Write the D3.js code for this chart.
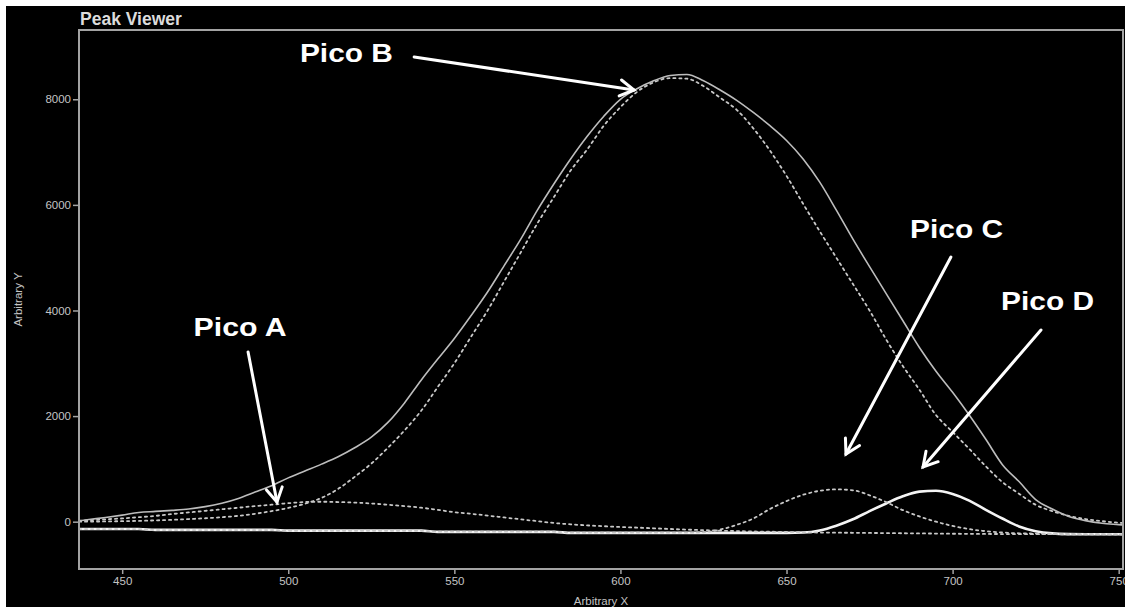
<!DOCTYPE html>
<html>
<head>
<meta charset="utf-8">
<script src="https://cdn.jsdelivr.net/npm/d3@7"></script>
<style>
  html, body { margin: 0; padding: 0; background: #ffffff; }
  svg { display: block; }
</style>
</head>
<body>
<svg id="chart" width="1125" height="607"></svg>
<script>
// Spectral axis (Arbitrary X)
const wavelength = [437, 440, 445, 450, 455, 460, 465, 470, 475, 480, 485, 490, 495, 500, 505, 510, 515, 520, 525, 530, 535, 540, 545, 550, 555, 560, 565, 570, 575, 580, 585, 590, 595, 600, 605, 610, 615, 620, 625, 630, 635, 640, 645, 650, 655, 660, 665, 670, 675, 680, 685, 690, 695, 700, 705, 710, 715, 720, 725, 730, 735, 740, 745, 750, 751];

// Measured envelope (solid grey)
const totalSignal = [15, 40, 80, 125, 175, 195, 215, 240, 285, 350, 440, 560, 680, 830, 960, 1090, 1230, 1400, 1600, 1880, 2250, 2680, 3080, 3470, 3900, 4350, 4850, 5350, 5900, 6400, 6870, 7300, 7680, 8000, 8200, 8350, 8450, 8470, 8350, 8176, 7980, 7750, 7500, 7220, 6870, 6430, 5900, 5350, 4830, 4320, 3810, 3300, 2850, 2450, 2020, 1560, 1080, 760, 420, 240, 100, 20, -30, -55, -60];

// Fitted components
const picoA = [20, 28, 45, 62, 85, 110, 145, 175, 205, 235, 265, 295, 322, 350, 372, 378, 372, 362, 345, 320, 295, 265, 225, 180, 150, 115, 80, 45, 10, -25, -50, -70, -85, -100, -112, -125, -138, -150, -160, -170, -178, -185, -190, -195, -200, -205, -208, -210, -213, -216, -219, -222, -225, -228, -230, -232, -234, -235, -236, -237, -238, -239, -240, -240, -240];
const picoB = [0, 2, 5, 10, 15, 25, 35, 50, 65, 85, 110, 150, 200, 260, 340, 450, 620, 850, 1100, 1400, 1730, 2100, 2550, 3000, 3500, 4000, 4550, 5100, 5650, 6150, 6650, 7050, 7500, 7850, 8140, 8320, 8400, 8390, 8250, 8030, 7800, 7450, 7030, 6550, 6020, 5500, 5000, 4500, 4000, 3450, 2950, 2500, 2020, 1700, 1380, 1050, 750, 530, 320, 200, 110, 50, 10, -20, -25];
const picoC = [-140, -140, -140, -140, -140, -158, -158, -158, -158, -158, -158, -158, -158, -172, -172, -172, -172, -172, -172, -172, -172, -172, -190, -190, -190, -190, -190, -190, -190, -190, -208, -208, -208, -208, -208, -208, -208, -208, -200, -150, -60, 60, 240, 390, 510, 585, 612, 595, 500, 370, 220, 100, 0, -80, -140, -180, -205, -220, -225, -228, -231, -234, -237, -240, -240];
const picoD = [-138, -138, -138, -138, -138, -155, -155, -155, -155, -155, -155, -155, -155, -170, -170, -170, -170, -170, -170, -170, -170, -170, -192, -192, -192, -192, -192, -192, -192, -192, -212, -212, -212, -212, -212, -212, -212, -212, -212, -212, -212, -212, -212, -212, -205, -165, -75, 45, 200, 345, 480, 570, 585, 525, 400, 225, 60, -90, -180, -222, -235, -238, -238, -238, -238];

// Axis ticks
const xTicks = [450, 500, 550, 600, 650, 700, 750];
const yTicks = [0, 2000, 4000, 6000, 8000];

// Callouts: label anchor (centre, baseline) and arrow from start to tip, in data units
const calloutNames = ["Pico A", "Pico B", "Pico C", "Pico D"];
const calloutLabelX = [485.5, 517.5, 701.2, 728.6];
const calloutLabelY = [3517, 8706, 5373, 4010];
const arrowStartX = [487.9, 537.9, 699.5, 726.6];
const arrowStartY = [3214, 8801, 5013, 3631];
const arrowTipX = [496.6, 604.1, 667.9, 691.1];
const arrowTipY = [373, 8176, 1282, 1036];

const svg = d3.select("#chart");
const W = 1125, H = 607;
const plot = { left: 79, right: 1123, top: 30, bottom: 569 };

// Page: white margin at top/left, black canvas
svg.append("rect").attr("width", W).attr("height", H).attr("fill", "#ffffff");
svg.append("rect").attr("x", 6).attr("y", 6).attr("width", W - 6).attr("height", H - 6).attr("fill", "#000000");

const x = d3.scaleLinear().domain([437, 751.3]).range([plot.left, plot.right]);
const y = d3.scaleLinear().domain([-896, 9312]).range([plot.bottom, plot.top]);

const axisColor = "#a3a3a3";
const textColor = "#c4c4c4";
const font = "'Liberation Sans', Arial, sans-serif";

// Title
svg.append("text")
  .attr("x", 80).attr("y", 25)
  .attr("font-family", font).attr("font-weight", "bold").attr("font-size", 17.5)
  .attr("fill", "#dcdcdc")
  .text("Peak Viewer");

// Frame
svg.append("rect")
  .attr("x", plot.left).attr("y", plot.top)
  .attr("width", plot.right - plot.left).attr("height", plot.bottom - plot.top)
  .attr("fill", "none").attr("stroke", axisColor).attr("stroke-width", 2);

// Axes
const xAxis = d3.axisBottom(x).tickValues(xTicks).tickSize(5).tickPadding(3).tickFormat(d3.format("d"));
const yAxis = d3.axisLeft(y).tickValues(yTicks).tickSize(6).tickPadding(2).tickFormat(d3.format("d"));

const gx = svg.append("g").attr("transform", `translate(0,${plot.bottom})`).call(xAxis);
const gy = svg.append("g").attr("transform", `translate(${plot.left},0)`).call(yAxis);
[gx, gy].forEach(g => {
  g.select(".domain").remove();
  g.selectAll(".tick line").attr("stroke", axisColor).attr("stroke-width", 1.5);
  g.selectAll(".tick text").attr("fill", textColor).attr("font-family", font).attr("font-size", 11.5);
});

// Axis titles
svg.append("text")
  .attr("x", (plot.left + plot.right) / 2).attr("y", 605)
  .attr("text-anchor", "middle")
  .attr("font-family", font).attr("font-size", 11.5).attr("fill", textColor)
  .text("Arbitrary X");
svg.append("text")
  .attr("transform", `translate(22,${(plot.top + plot.bottom) / 2}) rotate(-90)`)
  .attr("text-anchor", "middle")
  .attr("font-family", font).attr("font-size", 11.5).attr("fill", textColor)
  .text("Arbitrary Y");

// Curves
svg.append("clipPath").attr("id", "plot-clip")
  .append("rect").attr("x", plot.left + 1).attr("y", plot.top + 1)
  .attr("width", plot.right - plot.left - 2).attr("height", plot.bottom - plot.top - 2);
const curves = svg.append("g").attr("clip-path", "url(#plot-clip)");

const line = d3.line()
  .x((d, i) => x(wavelength[i]))
  .y(d => y(d))
  .curve(d3.curveMonotoneX);

const seriesList = [
  { values: picoD, stroke: "#f4f4f4", width: 2.6, dash: null },
  { values: picoC, stroke: "#c8c8c8", width: 1.8, dash: "2.2,3.8" },
  { values: picoA, stroke: "#c8c8c8", width: 1.8, dash: "2.2,3.8" },
  { values: picoB, stroke: "#c8c8c8", width: 1.8, dash: "2.2,3.8" },
  { values: totalSignal, stroke: "#bdbdbd", width: 1.6, dash: null }
];

seriesList.forEach(s => {
  curves.append("path")
    .datum(s.values)
    .attr("d", line)
    .attr("fill", "none")
    .attr("stroke", s.stroke)
    .attr("stroke-width", s.width)
    .attr("stroke-dasharray", s.dash)
    .attr("stroke-linejoin", "round")
    .attr("stroke-linecap", "round");
});

// Callout arrows with open heads
const notes = svg.append("g");
calloutNames.forEach((name, i) => {
  const x1 = x(arrowStartX[i]), y1 = y(arrowStartY[i]);
  const x2 = x(arrowTipX[i]), y2 = y(arrowTipY[i]);
  const ang = Math.atan2(y2 - y1, x2 - x1);
  const len = 16, spread = Math.PI / 6;
  const b1 = [x2 - len * Math.cos(ang - spread), y2 - len * Math.sin(ang - spread)];
  const b2 = [x2 - len * Math.cos(ang + spread), y2 - len * Math.sin(ang + spread)];

  notes.append("line")
    .attr("x1", x1).attr("y1", y1).attr("x2", x2).attr("y2", y2)
    .attr("stroke", "#ffffff").attr("stroke-width", 3).attr("stroke-linecap", "round");
  notes.append("path")
    .attr("d", `M${b1[0]},${b1[1]}L${x2},${y2}L${b2[0]},${b2[1]}`)
    .attr("fill", "none").attr("stroke", "#ffffff").attr("stroke-width", 3)
    .attr("stroke-linecap", "round").attr("stroke-linejoin", "miter");

  const labelW = 93;
  notes.append("text")
    .attr("x", x(calloutLabelX[i]) - labelW / 2).attr("y", y(calloutLabelY[i]))
    .attr("font-family", font).attr("font-weight", "bold").attr("font-size", 25)
    .attr("textLength", labelW).attr("lengthAdjust", "spacingAndGlyphs")
    .attr("fill", "#ffffff")
    .text(name);
});
</script>
</body>
</html>
